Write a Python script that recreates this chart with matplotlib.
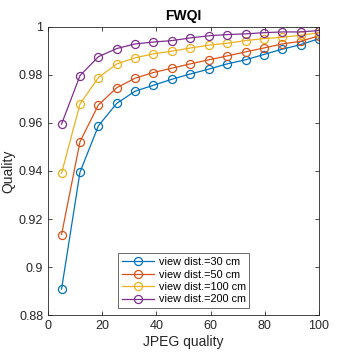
import numpy as np
import matplotlib.pyplot as plt

# JPEG quality levels (15 points)
jpeg_q = [5, 11.8, 18.6, 25.4, 32.1, 38.9, 45.7, 52.5, 59.3, 66.1, 72.9, 79.6, 86.4, 93.2, 100]

fwqi_30 = [0.8908, 0.9395, 0.9588, 0.9682, 0.9732, 0.9757, 0.9782, 0.9804,
           0.9824, 0.9846, 0.9863, 0.9885, 0.9907, 0.9926, 0.9951]
fwqi_50 = [0.9135, 0.9522, 0.9675, 0.9747, 0.9786, 0.9810, 0.9828, 0.9846,
           0.9863, 0.9879, 0.9896, 0.9912, 0.9929, 0.9940, 0.9963]
fwqi_100 = [0.9390, 0.9679, 0.9789, 0.9846, 0.9871, 0.9888, 0.9899, 0.9912,
            0.9924, 0.9932, 0.9943, 0.9951, 0.9957, 0.9965, 0.9976]
fwqi_200 = [0.9595, 0.9797, 0.9876, 0.9910, 0.9929, 0.9937, 0.9943, 0.9954,
            0.9963, 0.9968, 0.9971, 0.9976, 0.9979, 0.9979, 0.9985]

labels = ["view dist.=30 cm", "view dist.=50 cm", "view dist.=100 cm", "view dist.=200 cm"]
colors = ["#0072BD", "#D95319", "#EDB120", "#7E2F8E"]

xticks = [0, 20, 40, 60, 80, 100]
yticks = [0.88, 0.90, 0.92, 0.94, 0.96, 0.98, 1.00]
yticklabels = ["0.88", "0.9", "0.92", "0.94", "0.96", "0.98", "1"]

plt.rcParams["font.family"] = ["Liberation Sans", "DejaVu Sans"]

fig = plt.figure(figsize=(3.54, 3.54), dpi=100)
ax = fig.add_axes([0.1356, 0.110, 0.7655, 0.814])

for ys, lab, c in zip([fwqi_30, fwqi_50, fwqi_100, fwqi_200], labels, colors):
    ax.plot(jpeg_q, ys, color=c, linewidth=0.9, marker="o", markersize=5.8,
            markerfacecolor="none", markeredgecolor=c, markeredgewidth=0.9, label=lab)

ax.set_xlim(0, 100)
ax.set_ylim(0.88, 1.0)
ax.set_xticks(xticks)
ax.set_yticks(yticks)
ax.set_yticklabels(yticklabels)
ax.tick_params(direction="in", length=3, width=0.6, labelsize=9, colors="#262626",
               top=True, right=True, labeltop=False, labelright=False)
for s in ax.spines.values():
    s.set_linewidth(0.6)
    s.set_color("#262626")

ax.set_xlabel("JPEG quality", fontsize=10, color="#262626", labelpad=2)
ax.set_ylabel("Quality", fontsize=10, color="#262626")
ax.yaxis.set_label_coords(-0.12, 0.5)
ax.set_title("FWQI", fontsize=10, fontweight="bold", pad=5)

leg = ax.legend(loc="lower left", bbox_to_anchor=(0.258, 0.024), borderaxespad=0,
                fontsize=7.8, frameon=True, fancybox=False, handlelength=3.0,
                labelspacing=0.22, borderpad=0.35, handletextpad=0.4)
leg.get_frame().set_edgecolor("#262626")
leg.get_frame().set_linewidth(0.6)

fig.savefig("out.png", dpi=100)
